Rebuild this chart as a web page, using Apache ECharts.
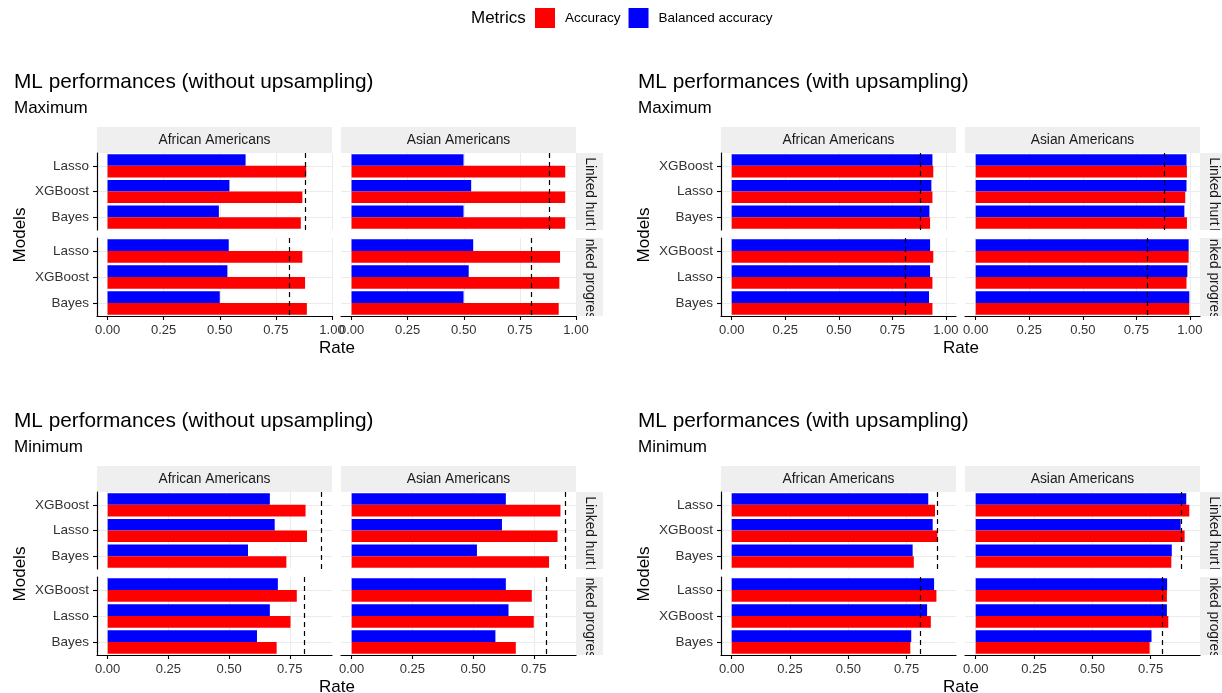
<!DOCTYPE html>
<html lang="en">
<head>
<meta charset="UTF-8">
<title>ML performances</title>
<script src="https://cdn.jsdelivr.net/npm/echarts@6/dist/echarts.min.js"></script>
<style>
    *{
        padding:0;
        margin:0;
    }
    html,body{
        background:#fff;
    }
    #main{
        width:1222px;
        height:693px;
    }
</style>
</head>
<body>
<div id="main"></div>
<script>
    var metrics = ['Accuracy', 'Balanced accuracy'];
    var groups = ['African Americans', 'Asian Americans'];
    var outcomes = ['Linked hurt', 'Linked progress'];
    var xTicks = [0, 0.25, 0.5, 0.75, 1];

    // models as listed top -> bottom in each panel
    var modelsMaxNoUp = ['Lasso', 'XGBoost', 'Bayes'];
    var modelsMaxUp = ['XGBoost', 'Lasso', 'Bayes'];
    var modelsMinNoUp = ['XGBoost', 'Lasso', 'Bayes'];
    var modelsMinUp = ['Lasso', 'XGBoost', 'Bayes'];

    // each: [AA hurt, AA progress, Asian hurt, Asian progress], models top -> bottom
    var accMaxNoUp = [[0.885, 0.868, 0.861], [0.868, 0.880, 0.888], [0.952, 0.952, 0.952], [0.929, 0.926, 0.923]];
    var balMaxNoUp = [[0.615, 0.543, 0.496], [0.540, 0.534, 0.500], [0.499, 0.533, 0.499], [0.542, 0.522, 0.499]];
    var accMaxUp = [[0.941, 0.937, 0.926], [0.941, 0.937, 0.937], [0.986, 0.978, 0.986], [0.994, 0.984, 0.997]];
    var balMaxUp = [[0.937, 0.932, 0.923], [0.926, 0.926, 0.921], [0.984, 0.984, 0.974], [0.994, 0.988, 0.997]];
    var accMinNoUp = [[0.815, 0.821, 0.736], [0.779, 0.753, 0.696], [0.860, 0.848, 0.813], [0.742, 0.750, 0.676]];
    var balMinNoUp = [[0.668, 0.688, 0.578], [0.701, 0.668, 0.615], [0.635, 0.619, 0.516], [0.635, 0.646, 0.592]];
    var accMinUp = [[0.872, 0.882, 0.781], [0.878, 0.854, 0.766], [0.916, 0.896, 0.839], [0.820, 0.826, 0.746]];
    var balMinUp = [[0.843, 0.862, 0.776], [0.868, 0.838, 0.770], [0.903, 0.879, 0.841], [0.821, 0.820, 0.754]];

    // dashed reference line per facet
    var baseline = [0.877, 0.812, 0.881, 0.796];

    var FONT = '"Liberation Sans", Arial, sans-serif';

    var panels = [
        {title: 'ML performances (without upsampling)', sub: 'Maximum', ox: 0, oy: 153,
            models: modelsMaxNoUp, acc: accMaxNoUp, bal: balMaxNoUp, xmin: -0.047, xmax: 1.0},
        {title: 'ML performances (with upsampling)', sub: 'Maximum', ox: 624, oy: 153,
            models: modelsMaxUp, acc: accMaxUp, bal: balMaxUp, xmin: -0.05, xmax: 1.047},
        {title: 'ML performances (without upsampling)', sub: 'Minimum', ox: 0, oy: 492,
            models: modelsMinNoUp, acc: accMinNoUp, bal: balMinNoUp, xmin: -0.044, xmax: 0.924},
        {title: 'ML performances (with upsampling)', sub: 'Minimum', ox: 624, oy: 492,
            models: modelsMinUp, acc: accMinUp, bal: balMinUp, xmin: -0.046, xmax: 0.962}
    ];

    var grids = [], xAxes = [], yAxes = [], series = [], graphics = [];

    function txt(x, y, s, size, opts) {
        opts = opts || {};
        return {
            type: 'text', x: x, y: y, rotation: opts.rotation || 0, z: opts.z || 0, silent: true,
            style: {text: s, fontSize: size, fontFamily: FONT, fill: opts.fill || '#000',
                align: opts.align || 'left', verticalAlign: 'middle'}
        };
    }

    panels.forEach(function (p) {
        graphics.push(txt(p.ox + 14, p.oy - 71, p.title, 20.8));
        graphics.push(txt(p.ox + 14, p.oy - 45, p.sub, 17));
        graphics.push(txt(p.ox + 20, p.oy + 82, 'Models', 17, {rotation: Math.PI / 2, align: 'center'}));
        graphics.push(txt(p.ox + 337, p.oy + 195, 'Rate', 17, {align: 'center'}));

        for (var c = 0; c < 2; c++) {
            // strip on top
            graphics.push({type: 'rect', z: -3, silent: true,
                shape: {x: p.ox + 97 + c * 244, y: p.oy - 26, width: 235, height: 26},
                style: {fill: '#efefef'}});
            graphics.push(txt(p.ox + 97 + c * 244 + 117.5, p.oy - 13, groups[c], 13.8, {align: 'center', fill: '#1a1a1a', z: -2}));

            for (var r = 0; r < 2; r++) {
                var k = c * 2 + r;
                var gi = grids.length;
                var top = p.oy + r * 85;
                var h = r ? 78 : 77;
                var bottomRow = r === 1, firstCol = c === 0;
                var ticks = xTicks.filter(function (v) { return v <= p.xmax; });

                grids.push({left: p.ox + 97 + c * 244, top: top, width: 235, height: h});
                xAxes.push({
                    gridIndex: gi, type: 'value', min: p.xmin, max: p.xmax,
                    axisLine: {show: bottomRow, onZero: false, lineStyle: {color: '#000', width: 1.2}},
                    axisTick: {show: bottomRow, customValues: ticks, length: 4, lineStyle: {color: '#000', width: 1.1}},
                    axisLabel: {show: bottomRow, customValues: ticks, color: '#333', fontSize: 13, margin: 8,
                        fontFamily: FONT, formatter: function (v) { return v.toFixed(2); }},
                    splitLine: {show: true, lineStyle: {color: '#ebebeb', width: 1}}
                });
                yAxes.push({
                    gridIndex: gi, type: 'category', data: p.models, inverse: true,
                    axisLine: {show: firstCol, onZero: false, lineStyle: {color: '#000', width: 1.2}},
                    axisTick: {show: firstCol, alignWithLabel: true, length: 4, lineStyle: {color: '#000', width: 1.1}},
                    axisLabel: {show: firstCol, color: '#333', fontSize: 13.5, margin: 8, fontFamily: FONT},
                    splitLine: {show: true, alignWithLabel: true, lineStyle: {color: '#ebebeb', width: 1}}
                });
                // balanced accuracy first so it sits on top in each band
                series.push({
                    type: 'bar', name: metrics[1], xAxisIndex: gi, yAxisIndex: gi, data: p.bal[k],
                    barWidth: '45%', barGap: '0%', itemStyle: {color: '#0000ff'},
                    markLine: {
                        silent: true, symbol: ['none', 'none'], label: {show: false},
                        lineStyle: {color: '#000', type: [5, 4], width: 1.2},
                        data: [{xAxis: baseline[k]}]
                    }
                });
                series.push({
                    type: 'bar', name: metrics[0], xAxisIndex: gi, yAxisIndex: gi, data: p.acc[k],
                    barWidth: '45%', barGap: '0%', itemStyle: {color: '#ff0000'}
                });

                // right strip with outcome label
                if (c === 1) {
                    var sx = p.ox + 576;
                    graphics.push({type: 'rect', z: -3, silent: true,
                        shape: {x: sx, y: top, width: 27, height: h}, style: {fill: '#efefef'}});
                    graphics.push(txt(sx + 13.5, top + h / 2, outcomes[r], 13.8,
                        {rotation: -Math.PI / 2, align: 'center', fill: '#1a1a1a', z: -2}));
                    // clip the overflowing label
                    if (r === 1) {
                        graphics.push({type: 'rect', z: -1, silent: true,
                            shape: {x: sx, y: top - 8, width: 30, height: 8}, style: {fill: '#fff'}});
                        graphics.push({type: 'rect', z: -1, silent: true,
                            shape: {x: sx, y: top + h, width: 30, height: 14}, style: {fill: '#fff'}});
                    }
                }
            }
        }
    });

    graphics.push(txt(471, 18, 'Metrics', 17));

    var myChart = echarts.init(document.getElementById('main'));
    var option = {
        animation: false,
        backgroundColor: '#fff',
        textStyle: {fontFamily: FONT},
        legend: {
            data: metrics, left: 535, top: 8, padding: 0, itemWidth: 20, itemHeight: 20, itemGap: 8,
            icon: 'rect', selectedMode: false,
            textStyle: {fontSize: 13.5, color: '#000', fontFamily: FONT, padding: [0, 0, 0, 5]}
        },
        grid: grids,
        xAxis: xAxes,
        yAxis: yAxes,
        series: series,
        graphic: graphics
    };
    myChart.setOption(option);
</script>
</body>
</html>
